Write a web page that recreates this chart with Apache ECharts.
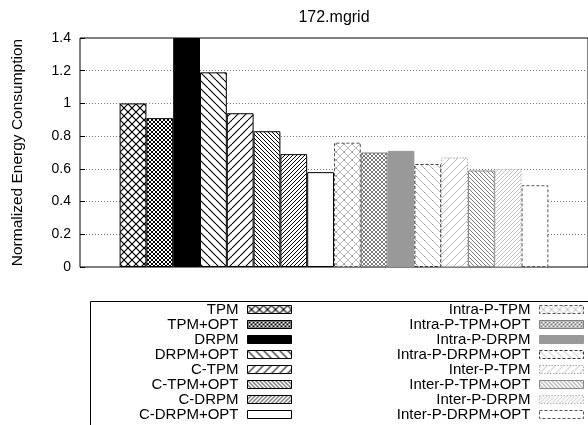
<!DOCTYPE html>
<html>
<head>
<meta charset="utf-8">
<script src="https://cdn.jsdelivr.net/npm/echarts@6/dist/echarts.min.js"></script>
<style>
  html, body { margin: 0; padding: 0; background: #fff; }
  #chart { width: 588px; height: 425px; }
</style>
</head>
<body>
<div id="chart"></div>
<script>
// Benchmark shown on the category axis
const benchmarks = ['172.mgrid'];

// Power-management schemes, in drawing order
const schemes = [
  'TPM', 'TPM+OPT', 'DRPM', 'DRPM+OPT',
  'C-TPM', 'C-TPM+OPT', 'C-DRPM', 'C-DRPM+OPT',
  'Intra-P-TPM', 'Intra-P-TPM+OPT', 'Intra-P-DRPM', 'Intra-P-DRPM+OPT',
  'Inter-P-TPM', 'Inter-P-TPM+OPT', 'Inter-P-DRPM', 'Inter-P-DRPM+OPT'
];

// Normalized energy consumption for 172.mgrid, one value per scheme
const energy = [
  1.00, 0.91, 1.40, 1.19,
  0.94, 0.83, 0.69, 0.58,
  0.76, 0.70, 0.71, 0.63,
  0.67, 0.59, 0.60, 0.50
];

// Y axis tick range
const yMin = 0;
const yMax = 1.4;
const yStep = 0.2;

const FONT = '"Liberation Sans", Arial, Helvetica, sans-serif';

// Build a repeating hatch tile: dirs may contain '/' and '\\'
function hatch(period, dirs, color, width, dash) {
  const c = document.createElement('canvas');
  c.width = period; c.height = period;
  const ctx = c.getContext('2d');
  ctx.fillStyle = '#fff';
  ctx.fillRect(0, 0, period, period);
  ctx.strokeStyle = color;
  ctx.lineWidth = width;
  if (dash) ctx.setLineDash(dash);
  for (const d of dirs) {
    for (let k = -1; k <= 1; k++) {
      ctx.beginPath();
      if (d === '/') {
        ctx.moveTo(k * period, period);
        ctx.lineTo(k * period + period, 0);
      } else {
        ctx.moveTo(k * period, 0);
        ctx.lineTo(k * period + period, period);
      }
      ctx.stroke();
    }
  }
  return { image: c, repeat: 'repeat' };
}

// Fill and outline for each scheme
const styles = [
  { fill: hatch(8, ['/', '\\'], '#000', 1.2), border: '#000', type: 'solid' },
  { fill: hatch(4, ['/', '\\'], '#000', 1), border: '#000', type: 'solid' },
  { fill: '#000', border: '#000', type: 'solid' },
  { fill: hatch(8, ['\\'], '#000', 1.1), border: '#000', type: 'solid' },
  { fill: hatch(8, ['/'], '#000', 1.1), border: '#000', type: 'solid' },
  { fill: hatch(4, ['\\'], '#000', 1), border: '#000', type: 'solid' },
  { fill: hatch(4, ['/'], '#000', 1), border: '#000', type: 'solid' },
  { fill: '#fff', border: '#000', type: 'solid' },
  { fill: hatch(8, ['/', '\\'], '#9a9a9a', 1, [2, 1]), border: '#555', type: [3, 2] },
  { fill: hatch(4, ['/', '\\'], '#7a7a7a', 1), border: '#808080', type: 'solid' },
  { fill: '#999', border: '#999', type: 'solid' },
  { fill: hatch(8, ['\\'], '#999', 1, [2, 1]), border: '#333', type: [3, 2] },
  { fill: hatch(8, ['/'], '#b8b8b8', 1), border: '#aaa', type: [1.5, 1.5] },
  { fill: hatch(4, ['\\'], '#7f7f7f', 1), border: '#888', type: 'solid' },
  { fill: hatch(4, ['/'], '#c4c4c4', 1), border: '#bbb', type: [1.5, 1.5] },
  { fill: '#fff', border: '#555', type: [3, 2] }
];

const series = schemes.map((name, i) => ({
  name: name,
  type: 'bar',
  data: [energy[i]],
  barGap: '0%',
  barCategoryGap: '15.6%',
  itemStyle: {
    color: styles[i].fill,
    borderColor: styles[i].border,
    borderWidth: 1,
    borderType: styles[i].type
  },
  emphasis: { disabled: true }
}));

// Legend entries carry the same outline style as their bars
const legendItems = schemes.map((name, i) => ({
  name: name,
  itemStyle: {
    color: styles[i].fill,
    borderColor: styles[i].border,
    borderWidth: 1,
    borderType: styles[i].type
  }
}));

const legendCommon = {
  orient: 'vertical',
  align: 'right',
  top: 302,
  padding: 0,
  itemGap: 0,
  itemWidth: 44,
  itemHeight: 8,
  selectedMode: false,
  icon: 'rect',
  itemStyle: { borderWidth: 1 },
  textStyle: {
    fontFamily: FONT, fontSize: 15, color: '#000', lineHeight: 15,
    padding: [0, 4, 0, 0]
  }
};

const chart = echarts.init(document.getElementById('chart'), null, { renderer: 'canvas' });
chart.setOption({
  animation: false,
  backgroundColor: '#fff',
  grid: {
    left: 80, top: 38, width: 514, height: 229,
    show: true, borderColor: '#000', borderWidth: 1, backgroundColor: 'transparent'
  },
  xAxis: {
    type: 'category',
    data: benchmarks,
    position: 'top',
    axisLine: { show: false },
    axisTick: { show: false },
    axisLabel: { margin: 12, fontFamily: FONT, fontSize: 16, color: '#000' }
  },
  yAxis: {
    type: 'value',
    min: yMin, max: yMax, interval: yStep,
    name: 'Normalized Energy Consumption',
    nameLocation: 'middle',
    nameGap: 54,
    nameTextStyle: { fontFamily: FONT, fontSize: 15.5, color: '#000' },
    axisLine: { show: false },
    axisTick: { show: true, inside: true, length: 5, lineStyle: { color: '#000', width: 1 } },
    axisLabel: {
      margin: 9, fontFamily: FONT, fontSize: 14, color: '#000',
      formatter: v => String(Math.round(v * 10) / 10)
    },
    splitLine: {
      show: true, showMinLine: false, showMaxLine: false,
      lineStyle: { color: '#777', width: 1, type: [1, 2] }
    }
  },
  legend: [
    Object.assign({ data: legendItems.slice(0, 8), right: 296 }, legendCommon),
    Object.assign({ data: legendItems.slice(8), right: 4 }, legendCommon)
  ],
  graphic: [{
    type: 'rect',
    silent: true,
    shape: { x: 90.5, y: 301.5, width: 600, height: 200 },
    style: { fill: 'none', stroke: '#000', lineWidth: 1 }
  }],
  series: series
});
</script>
</body>
</html>
